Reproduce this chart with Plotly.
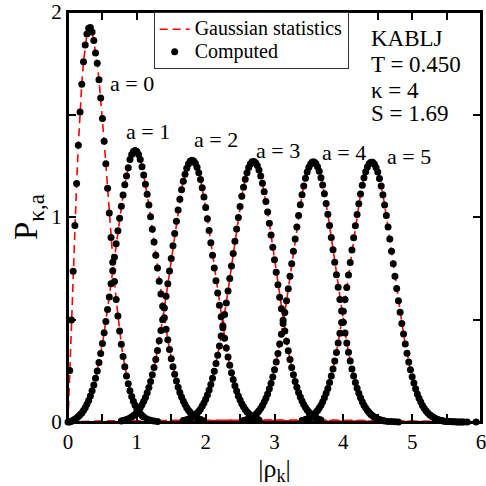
import plotly.graph_objects as go

# ---------------- data ----------------
X_A0 = [0.0, 0.025, 0.05, 0.075, 0.1, 0.125, 0.15, 0.175, 0.2, 0.225, 0.25, 0.275, 0.3, 0.325, 0.35,
        0.375, 0.4, 0.425, 0.45, 0.475, 0.5, 0.525, 0.55, 0.575, 0.6, 0.625, 0.65, 0.675, 0.7, 0.725,
        0.75, 0.775, 0.8, 0.825, 0.85, 0.875, 0.9, 0.925, 0.95, 0.975, 1.0, 1.025, 1.05, 1.075, 1.1,
        1.15, 1.2, 1.25, 1.3]
P_A0 = [0.000, 0.251, 0.498, 0.735, 0.958, 1.164, 1.350, 1.512, 1.648, 1.757, 1.839, 1.893, 1.921, 1.924, 1.903,
        1.861, 1.800, 1.750, 1.670, 1.580, 1.480, 1.370, 1.260, 1.140, 1.020, 0.900, 0.779, 0.685, 0.597, 0.517,
        0.444, 0.379, 0.320, 0.269, 0.225, 0.186, 0.153, 0.125, 0.101, 0.082, 0.065, 0.052, 0.041, 0.032, 0.025,
        0.015, 0.009, 0.005, 0.003]

X_A1 = [0.025, 0.05, 0.075, 0.1, 0.125, 0.15, 0.175, 0.2, 0.225, 0.25, 0.275, 0.3, 0.325, 0.35, 0.375,
        0.4, 0.425, 0.45, 0.475, 0.5, 0.525, 0.55, 0.575, 0.6, 0.625, 0.65, 0.675, 0.7, 0.725, 0.75,
        0.775, 0.8, 0.825, 0.85, 0.875, 0.9, 0.925, 0.95, 0.975, 1.0, 1.025, 1.05, 1.075, 1.1, 1.125,
        1.15, 1.175, 1.2, 1.225, 1.25, 1.275, 1.3, 1.325, 1.35, 1.375, 1.4, 1.425, 1.45, 1.475, 1.5,
        1.525, 1.55, 1.575, 1.6, 1.625, 1.65, 1.675, 1.7, 1.725, 1.75, 1.775, 1.8, 1.825, 1.85, 1.875,
        1.9, 1.925, 1.95]
P_A1 = [0.000, 0.004, 0.009, 0.014, 0.020, 0.027, 0.035, 0.044, 0.056, 0.070, 0.086, 0.105, 0.127, 0.152, 0.180,
        0.213, 0.249, 0.290, 0.334, 0.383, 0.435, 0.490, 0.549, 0.610, 0.674, 0.738, 0.804, 0.869, 0.933, 0.994,
        1.053, 1.107, 1.157, 1.200, 1.240, 1.280, 1.305, 1.320, 1.325, 1.320, 1.305, 1.280, 1.245, 1.205, 1.160,
        1.111, 1.058, 1.001, 0.940, 0.878, 0.814, 0.751, 0.687, 0.625, 0.565, 0.508, 0.453, 0.401, 0.354, 0.309,
        0.269, 0.233, 0.200, 0.170, 0.144, 0.122, 0.102, 0.085, 0.070, 0.057, 0.047, 0.038, 0.031, 0.024, 0.019,
        0.015, 0.012, 0.009]

X_A2 = [0.775, 0.8, 0.825, 0.85, 0.875, 0.9, 0.925, 0.95, 0.975, 1.0, 1.025, 1.05, 1.075, 1.1, 1.125,
        1.15, 1.175, 1.2, 1.225, 1.25, 1.275, 1.3, 1.325, 1.35, 1.375, 1.4, 1.425, 1.45, 1.475, 1.5,
        1.525, 1.55, 1.575, 1.6, 1.625, 1.65, 1.675, 1.7, 1.725, 1.75, 1.775, 1.8, 1.825, 1.85, 1.875,
        1.9, 1.925, 1.95, 1.975, 2.0, 2.025, 2.05, 2.075, 2.1, 2.125, 2.15, 2.175, 2.2, 2.225, 2.25,
        2.275, 2.3, 2.325, 2.35, 2.375, 2.4, 2.425, 2.45, 2.475, 2.5, 2.525, 2.55, 2.575, 2.6, 2.625,
        2.65, 2.675, 2.7, 2.725, 2.75, 2.775]
P_A2 = [0.005, 0.007, 0.009, 0.012, 0.015, 0.019, 0.024, 0.030, 0.037, 0.046, 0.057, 0.069, 0.084, 0.101, 0.120,
        0.143, 0.168, 0.197, 0.230, 0.266, 0.305, 0.349, 0.396, 0.446, 0.499, 0.556, 0.614, 0.675, 0.736, 0.798,
        0.860, 0.920, 0.979, 1.034, 1.086, 1.133, 1.174, 1.209, 1.238, 1.259, 1.272, 1.277, 1.273, 1.262, 1.243,
        1.216, 1.183, 1.143, 1.097, 1.046, 0.992, 0.934, 0.874, 0.813, 0.751, 0.689, 0.629, 0.570, 0.513, 0.460,
        0.409, 0.361, 0.317, 0.277, 0.240, 0.207, 0.177, 0.151, 0.127, 0.107, 0.089, 0.074, 0.061, 0.050, 0.041,
        0.033, 0.026, 0.021, 0.017, 0.013, 0.010]

X_A3 = [1.675, 1.7, 1.725, 1.75, 1.775, 1.8, 1.825, 1.85, 1.875, 1.9, 1.925, 1.95, 1.975, 2.0, 2.025,
        2.05, 2.075, 2.1, 2.125, 2.15, 2.175, 2.2, 2.225, 2.25, 2.275, 2.3, 2.325, 2.35, 2.375, 2.4,
        2.425, 2.45, 2.475, 2.5, 2.525, 2.55, 2.575, 2.6, 2.625, 2.65, 2.675, 2.7, 2.725, 2.75, 2.775,
        2.8, 2.825, 2.85, 2.875, 2.9, 2.925, 2.95, 2.975, 3.0, 3.025, 3.05, 3.075, 3.1, 3.125, 3.15,
        3.175, 3.2, 3.225, 3.25, 3.275, 3.3, 3.325, 3.35, 3.375, 3.4, 3.425, 3.45, 3.475, 3.5, 3.525,
        3.55, 3.575, 3.6, 3.625, 3.65, 3.675]
P_A3 = [0.007, 0.009, 0.011, 0.014, 0.018, 0.022, 0.028, 0.035, 0.043, 0.052, 0.064, 0.078, 0.093, 0.111, 0.132,
        0.156, 0.183, 0.214, 0.248, 0.285, 0.326, 0.371, 0.419, 0.470, 0.524, 0.581, 0.639, 0.700, 0.761, 0.822,
        0.882, 0.941, 0.998, 1.051, 1.101, 1.145, 1.184, 1.216, 1.241, 1.259, 1.269, 1.271, 1.265, 1.251, 1.229,
        1.200, 1.165, 1.123, 1.076, 1.025, 0.970, 0.912, 0.852, 0.791, 0.730, 0.669, 0.609, 0.552, 0.496, 0.444,
        0.394, 0.348, 0.305, 0.266, 0.230, 0.198, 0.169, 0.144, 0.122, 0.102, 0.085, 0.071, 0.058, 0.048, 0.039,
        0.031, 0.025, 0.020, 0.016, 0.012, 0.010]

X_A4 = [2.55, 2.575, 2.6, 2.625, 2.65, 2.675, 2.7, 2.725, 2.75, 2.775, 2.8, 2.825, 2.85, 2.875, 2.9,
        2.925, 2.95, 2.975, 3.0, 3.025, 3.05, 3.075, 3.1, 3.125, 3.15, 3.175, 3.2, 3.225, 3.25, 3.275,
        3.3, 3.325, 3.35, 3.375, 3.4, 3.425, 3.45, 3.475, 3.5, 3.525, 3.55, 3.575, 3.6, 3.625, 3.65,
        3.675, 3.7, 3.725, 3.75, 3.775, 3.8, 3.825, 3.85, 3.875, 3.9, 3.925, 3.95, 3.975, 4.0, 4.025,
        4.05, 4.075, 4.1, 4.125, 4.15, 4.175, 4.2, 4.225, 4.25, 4.275, 4.3, 4.325, 4.35, 4.375, 4.4,
        4.425, 4.45, 4.475, 4.5, 4.525, 4.55, 4.575, 4.6, 4.65, 4.7, 4.75, 4.8]
P_A4 = [0.007, 0.009, 0.012, 0.015, 0.019, 0.024, 0.029, 0.036, 0.045, 0.055, 0.067, 0.081, 0.097, 0.116, 0.137,
        0.162, 0.189, 0.220, 0.255, 0.293, 0.334, 0.380, 0.428, 0.480, 0.534, 0.591, 0.650, 0.711, 0.772, 0.833,
        0.893, 0.951, 1.007, 1.060, 1.108, 1.151, 1.189, 1.219, 1.243, 1.259, 1.268, 1.268, 1.261, 1.245, 1.223,
        1.192, 1.156, 1.113, 1.066, 1.013, 0.958, 0.900, 0.840, 0.779, 0.718, 0.657, 0.598, 0.541, 0.486, 0.434,
        0.385, 0.340, 0.298, 0.259, 0.224, 0.193, 0.165, 0.140, 0.118, 0.099, 0.082, 0.068, 0.056, 0.046, 0.037,
        0.030, 0.024, 0.019, 0.015, 0.012, 0.009, 0.007, 0.005, 0.003, 0.002, 0.001, 0.000]

X_A5 = [3.4, 3.425, 3.45, 3.475, 3.5, 3.525, 3.55, 3.575, 3.6, 3.625, 3.65, 3.675, 3.7, 3.725, 3.75,
        3.775, 3.8, 3.825, 3.85, 3.875, 3.9, 3.925, 3.95, 3.975, 4.0, 4.025, 4.05, 4.075, 4.1, 4.125,
        4.15, 4.175, 4.2, 4.225, 4.25, 4.275, 4.3, 4.325, 4.35, 4.375, 4.4, 4.425, 4.45, 4.475, 4.5,
        4.525, 4.55, 4.575, 4.6, 4.625, 4.65, 4.675, 4.7, 4.725, 4.75, 4.775, 4.8, 4.825, 4.85, 4.875,
        4.9, 4.925, 4.95, 4.975, 5.0, 5.025, 5.05, 5.075, 5.1, 5.125, 5.15, 5.175, 5.2, 5.225, 5.25,
        5.275, 5.3, 5.325, 5.35, 5.375, 5.4, 5.425, 5.45, 5.475, 5.5, 5.525, 5.55, 5.575, 5.6, 5.625,
        5.65, 5.675, 5.7, 5.725, 5.75, 5.8, 5.93]
P_A5 = [0.007, 0.009, 0.012, 0.015, 0.019, 0.024, 0.030, 0.037, 0.046, 0.056, 0.068, 0.082, 0.099, 0.118, 0.140,
        0.164, 0.193, 0.224, 0.259, 0.297, 0.339, 0.385, 0.433, 0.485, 0.540, 0.597, 0.656, 0.717, 0.778, 0.839,
        0.899, 0.957, 1.012, 1.065, 1.112, 1.155, 1.191, 1.221, 1.244, 1.260, 1.267, 1.267, 1.259, 1.242, 1.219,
        1.188, 1.151, 1.108, 1.059, 1.007, 0.951, 0.893, 0.833, 0.772, 0.711, 0.651, 0.592, 0.535, 0.480, 0.429,
        0.380, 0.335, 0.293, 0.255, 0.221, 0.190, 0.162, 0.137, 0.116, 0.097, 0.081, 0.067, 0.055, 0.045, 0.036,
        0.030, 0.024, 0.019, 0.015, 0.012, 0.009, 0.007, 0.005, 0.004, 0.003, 0.002, 0.002, 0.001, 0.001, 0.001,
        0.000, 0.000, 0.000, 0.000, 0.000, 0.000, 0.000]

CURVES = [(X_A0, P_A0), (X_A1, P_A1), (X_A2, P_A2), (X_A3, P_A3), (X_A4, P_A4), (X_A5, P_A5)]
CURVE_LABELS = ["a = 0", "a = 1", "a = 2", "a = 3", "a = 4", "a = 5"]
LABEL_X = [0.925, 1.16, 2.15, 3.05, 4.01, 4.96]
LABEL_Y = [1.652, 1.418, 1.378, 1.326, 1.316, 1.297]

INFO_LINES = ["KABLJ", "T = 0.450", "κ = 4", "S = 1.69"]
INFO_X = 4.37
INFO_Y = [1.869, 1.745, 1.618, 1.506]

X_RANGE = [0, 6]
Y_RANGE = [0, 2]
X_TICKS = [0, 0.5, 1, 1.5, 2, 2.5, 3, 3.5, 4, 4.5, 5, 5.5, 6]
X_TICK_TEXT = ["0", " ", "1", " ", "2", " ", "3", " ", "4", " ", "5", " ", "6"]
Y_TICKS = [0, 0.5, 1, 1.5, 2]
Y_TICK_TEXT = ["0", " ", "1", " ", "2"]

LEGEND_NAMES = ["Gaussian statistics", "Computed"]

FONT = "Liberation Serif, Times New Roman, serif"

fig = go.Figure()

# Gaussian statistics: red dashed lines
for i, (xs, ys) in enumerate(CURVES):
    fig.add_trace(go.Scatter(
        x=[X_RANGE[0]] + xs + [X_RANGE[1]], y=[0.0] + ys + [0.0],
        mode="lines", line=dict(color="#ff0000", width=1.6, dash="8px,5px"),
        name="<span style='font-size:20px'>%s</span>" % LEGEND_NAMES[0], showlegend=(i == 0),
        hoverinfo="skip"))

# Computed: black dots
for i, (xs, ys) in enumerate(CURVES):
    fig.add_trace(go.Scatter(
        x=xs, y=ys, mode="markers",
        marker=dict(color="black", size=7, line=dict(width=0)),
        name="<span style='font-size:20px'>%s</span>" % LEGEND_NAMES[1], showlegend=(i == 0),
        cliponaxis=False, hoverinfo="skip"))

annotations = []
for t, ax_, ay_ in zip(CURVE_LABELS, LABEL_X, LABEL_Y):
    annotations.append(dict(x=ax_, y=ay_, xref="x", yref="y", text=t, showarrow=False,
                            font=dict(family=FONT, size=22, color="black"),
                            xanchor="center", yanchor="middle"))
for t, yy in zip(INFO_LINES, INFO_Y):
    annotations.append(dict(x=INFO_X, y=yy, xref="x", yref="y", text=t, showarrow=False,
                            font=dict(family=FONT, size=23, color="black"),
                            xanchor="left", yanchor="middle"))

fig.update_layout(
    width=486, height=486,
    margin=dict(l=68, r=5, t=12, b=64, pad=0),
    plot_bgcolor="white", paper_bgcolor="white",
    font=dict(family=FONT, color="black"),
    legend=dict(x=0.2074, y=1.0, xanchor="left", yanchor="top",
                bgcolor="white", bordercolor="#333333", borderwidth=1,
                font=dict(family=FONT, size=15, color="black"), tracegroupgap=0),
    annotations=annotations,
    shapes=[dict(type="rect", xref="paper", yref="paper", x0=0, y0=0, x1=1, y1=1,
                 line=dict(color="black", width=2), fillcolor="rgba(0,0,0,0)", layer="above")],
)

fig.update_xaxes(range=X_RANGE, tickmode="array", tickvals=X_TICKS, ticktext=X_TICK_TEXT,
                 title=dict(text="|ρ<sub>k</sub>|", font=dict(family=FONT, size=26), standoff=4))
fig.update_yaxes(range=Y_RANGE, tickmode="array", tickvals=Y_TICKS, ticktext=Y_TICK_TEXT,
                 title=dict(text="P<sub>κ,a</sub>", font=dict(family=FONT, size=33), standoff=4))
axis_style = dict(showline=True, linecolor="black", linewidth=2, mirror="ticks",
                  ticks="inside", ticklen=8, tickwidth=1.5, tickcolor="black",
                  showgrid=False, zeroline=False, automargin=False, ticklabeloverflow="allow",
                  tickfont=dict(family=FONT, size=21, color="black"))
fig.update_xaxes(**axis_style)
fig.update_yaxes(**axis_style)

fig.write_html("out.html", config={"displayModeBar": False},
               post_script="document.body.style.margin='0';")
